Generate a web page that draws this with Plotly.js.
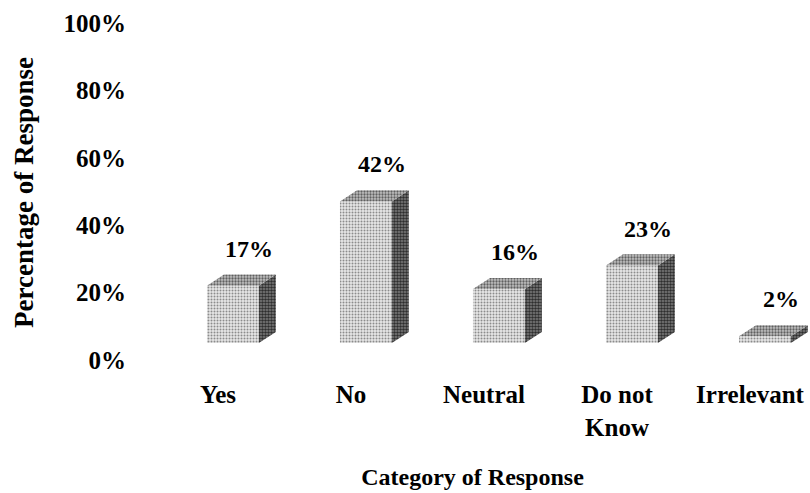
<!DOCTYPE html>
<html>
<head>
<meta charset="utf-8">
<script src="https://cdn.plot.ly/plotly-3.0.1.min.js"></script>
<style>
  html, body { margin: 0; padding: 0; background: #ffffff; }
  #chart { width: 810px; height: 493px; }
</style>
</head>
<body>
<div id="chart"></div>
<script>
// Survey responses, share of respondents per category
const categories = ['Yes', 'No', 'Neutral', 'Do not<br>Know', 'Irrelevant'];
const percentages = [17, 42, 16, 23, 2];
const valueLabels = ['17%', '42%', '16%', '23%', '2%'];
const yTickValues = [0, 20, 40, 60, 80, 100];
const yTickLabels = ['0%', '20%', '40%', '60%', '80%', '100%'];

// Pseudo-3D block geometry (in axis units)
const FRONT_OFFSET = -0.083;   // front face starts slightly left of the category tick
const FRONT_WIDTH = 0.39;
const DEPTH_X = 0.128;         // receding depth, horizontal
const DEPTH_Y = 3.3;           // receding depth, vertical (percentage points)

const FONT = 'Liberation Serif, Times New Roman, serif';
const idx = categories.map((_, i) => i);

// Side and top faces, one closed polygon per block, separated by gaps
const sideX = [], sideY = [], topX = [], topY = [];
idx.forEach(i => {
  const v = percentages[i];
  const x0 = i + FRONT_OFFSET;
  const x1 = x0 + FRONT_WIDTH;
  sideX.push(x1, x1 + DEPTH_X, x1 + DEPTH_X, x1, x1, null);
  sideY.push(0, DEPTH_Y, v + DEPTH_Y, v, 0, null);
  topX.push(x0, x0 + DEPTH_X, x1 + DEPTH_X, x1, x0, null);
  topY.push(v, v + DEPTH_Y, v + DEPTH_Y, v, v, null);
});

const frontFaces = {
  type: 'bar',
  x: idx,
  y: percentages,
  width: FRONT_WIDTH,
  offset: FRONT_OFFSET,
  marker: {
    color: '#d9d9d9',
    line: { width: 0 },
    pattern: { shape: '.', fgcolor: '#8c8c8c', bgcolor: '#e8e8e8', size: 3, solidity: 0.35, fillmode: 'replace' }
  },
  hoverinfo: 'skip',
  showlegend: false
};

const sideFaces = {
  type: 'scatter',
  mode: 'lines',
  x: sideX,
  y: sideY,
  fill: 'toself',
  fillcolor: '#5e5e5e',
  fillpattern: { shape: '.', fgcolor: '#2e2e2e', bgcolor: '#808080', size: 3, solidity: 0.55, fillmode: 'replace' },
  line: { width: 0, color: 'rgba(0,0,0,0)' },
  connectgaps: false,
  hoverinfo: 'skip',
  showlegend: false
};

const topFaces = {
  type: 'scatter',
  mode: 'lines',
  x: topX,
  y: topY,
  fill: 'toself',
  fillcolor: '#a0a0a0',
  fillpattern: { shape: '.', fgcolor: '#606060', bgcolor: '#c0c0c0', size: 3, solidity: 0.45, fillmode: 'replace' },
  line: { width: 0, color: 'rgba(0,0,0,0)' },
  connectgaps: false,
  hoverinfo: 'skip',
  showlegend: false
};

const annotations = idx.map(i => ({
  x: i + 0.23,
  y: percentages[i],
  xref: 'x',
  yref: 'y',
  text: valueLabels[i],
  showarrow: false,
  yshift: 37,
  font: { family: FONT, size: 24, color: '#000000', weight: 'bold' }
}));

annotations.push({
  x: -0.1644,
  y: 0.4425,
  xref: 'paper',
  yref: 'paper',
  xanchor: 'center',
  yanchor: 'middle',
  text: 'Percentage of Response',
  textangle: -90,
  showarrow: false,
  font: { family: FONT, size: 27, color: '#000000', weight: 'bold' }
});

const layout = {
  width: 810,
  height: 493,
  margin: { l: 135, r: 0, t: 4, b: 150 },
  paper_bgcolor: '#ffffff',
  plot_bgcolor: '#ffffff',
  font: { family: FONT, color: '#000000' },
  xaxis: {
    range: [-0.624, 4.451],
    tickmode: 'array',
    tickvals: idx,
    ticktext: categories,
    ticks: '',
    ticklabelstandoff: 34,
    tickfont: { family: FONT, size: 25, color: '#000000', weight: 'bold' },
    showgrid: false,
    zeroline: false,
    showline: false,
    fixedrange: true,
    title: {
      text: 'Category of Response',
      font: { family: FONT, size: 24, color: '#000000', weight: 'bold' },
      standoff: 28
    }
  },
  yaxis: {
    range: [0, 100.6],
    tickmode: 'array',
    tickvals: yTickValues,
    ticktext: yTickLabels,
    ticks: '',
    ticklabelshift: 17,
    ticklabelstandoff: 8,
    tickfont: { family: FONT, size: 25, color: '#000000', weight: 'bold' },
    showgrid: false,
    zeroline: false,
    showline: false,
    fixedrange: true
  },
  annotations: annotations,
  showlegend: false
};

Plotly.newPlot('chart', [frontFaces, sideFaces, topFaces], layout, { staticPlot: true, displayModeBar: false });
</script>
</body>
</html>
